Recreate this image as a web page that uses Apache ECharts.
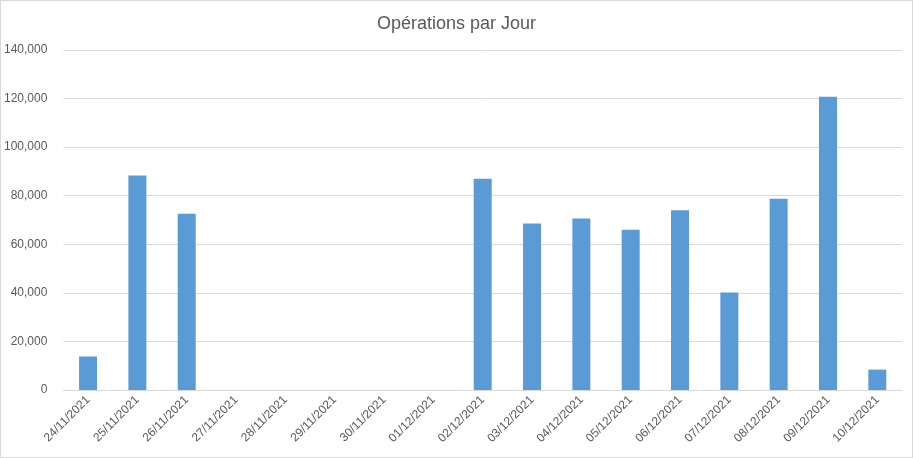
<!DOCTYPE html>
<html>
<head>
<meta charset="utf-8">
<script src="https://cdn.jsdelivr.net/npm/echarts@6/dist/echarts.min.js"></script>
<style>
html,body{margin:0;padding:0;background:#fff;}
#chart{width:911px;height:456px;border:1px solid #d9d9d9;}
</style>
</head>
<body>
<div id="chart"></div>
<script>
// données
let jours = ["24/11/2021","25/11/2021","26/11/2021","27/11/2021","28/11/2021","29/11/2021","30/11/2021","01/12/2021","02/12/2021","03/12/2021","04/12/2021","05/12/2021","06/12/2021","07/12/2021","08/12/2021","09/12/2021","10/12/2021"];
let operations = [13800,88300,72600,0,0,0,0,0,87000,68600,70600,66000,74000,40100,78800,120800,8400];

let chart = echarts.init(document.getElementById("chart"));
chart.setOption({
    title: {
        text: "Opérations par Jour",
        left: "center",
        top: 9,
        textStyle: {fontFamily: "Liberation Sans", fontSize: 18, fontWeight: "normal", color: "#595959"}
    },
    grid: {left: 52, right: 10, top: 49, bottom: 67},
    xAxis: {
        type: "category",
        data: jours,
        axisTick: {show: false},
        axisLine: {lineStyle: {color: "#d9d9d9"}},
        axisLabel: {rotate: 45, interval: 0, color: "#595959", fontSize: 12, fontFamily: "Liberation Sans", margin: 8}
    },
    yAxis: {
        type: "value",
        min: 0, max: 140000, interval: 20000,
        axisLabel: {color: "#595959", fontSize: 12, fontFamily: "Liberation Sans", margin: 16},
        splitLine: {lineStyle: {color: "#d9d9d9"}}
    },
    series: [{
        type: "bar",
        data: operations,
        barWidth: 18,
        itemStyle: {color: "#5b9bd5"}
    }]
});
</script>
</body>
</html>
